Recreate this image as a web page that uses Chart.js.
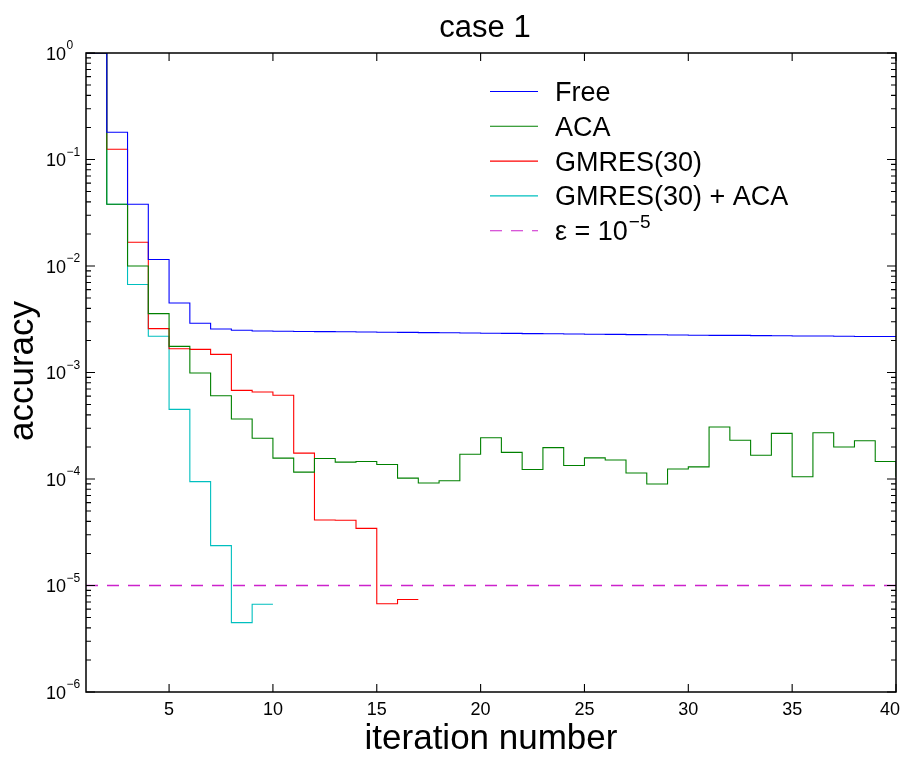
<!DOCTYPE html>
<html><head><meta charset="utf-8">
<script src="https://cdn.jsdelivr.net/npm/chart.js@4.4.1/dist/chart.umd.min.js"></script>
<style>html,body{margin:0;padding:0;background:#fff}#wrap{width:916px;height:761px;position:relative}</style>
</head><body><div id="wrap"><canvas id="c"></canvas></div>
<script>
// ---- data ----
const titleText = 'case 1';
const xLabel = 'iteration number';
const yLabel = 'accuracy';
const seriesNames = ['Free', 'ACA', 'GMRES(30)', 'GMRES(30) + ACA'];
const epsLabel = 'ε = 10';
const epsExp = '−5';
const freeVals = [1, 0.18, 0.038, 0.0115, 0.0045, 0.0029, 0.00256, 0.00249, 0.00245, 0.00244,
  0.00243, 0.00242, 0.00241, 0.0024, 0.00239, 0.00238, 0.00237, 0.00236, 0.00235, 0.00234,
  0.00233, 0.00232, 0.00231, 0.0023, 0.00229, 0.00228, 0.00227, 0.00226, 0.00225, 0.00224,
  0.00223, 0.00223, 0.00222, 0.00221, 0.0022, 0.0022, 0.00219, 0.00218, 0.00218, 0.00217];
const acaVals = [1, 0.038, 0.01, 0.00357, 0.00176, 0.00099, 0.000605, 0.000366, 0.000241, 0.000157,
  0.000116, 0.000156, 0.000144, 0.000146, 0.000137, 0.000102, 0.0000916, 0.0000964, 0.000171, 0.000244,
  0.000178, 0.000123, 0.000197, 0.000134, 0.000158, 0.000151, 0.000114, 0.0000897, 0.000124, 0.00013,
  0.000308, 0.000231, 0.000167, 0.000268, 0.000105, 0.000272, 0.0002, 0.000229, 0.000146, 0.000105];
const gmresVals = [1, 0.125, 0.0167, 0.00258, 0.00167, 0.00165, 0.00148, 0.00068, 0.000656, 0.000611,
  0.000175, 0.0000412, 0.000041, 0.0000344, 0.00000675, 0.0000074, 0.0000074];
const gmresAcaVals = [1, 0.038, 0.0067, 0.00219, 0.000451, 0.0000944, 0.0000237, 0.00000448, 0.00000666, 0.00000666];
const xTicks = [5, 10, 15, 20, 25, 30, 35, 40];
const yDecades = [0, -1, -2, -3, -4, -5, -6];
const xMin = 1, xMax = 40, yMin = 1e-6, yMax = 1;
const epsilon = 1e-5;
const colors = ['#0000ff', '#008000', '#ff0000', '#00bfbf', '#cc22cc'];

const FONT = "'Liberation Sans', Arial, Helvetica, sans-serif";
const toPts = vals => vals.map((v, i) => ({x: i + 1, y: v}));
const seriesVals = [freeVals, acaVals, gmresVals, gmresAcaVals];

const datasets = seriesVals.map((vals, i) => ({
  label: seriesNames[i], data: toPts(vals), borderColor: colors[i], backgroundColor: colors[i],
  borderWidth: 1.1, pointRadius: 0, stepped: 'before', fill: false
}));
datasets.push({
  label: 'eps', data: [{x: xMin, y: epsilon}, {x: xMax, y: epsilon}],
  borderColor: colors[4], backgroundColor: colors[4],
  borderWidth: 1.4, borderDash: [12, 9], pointRadius: 0, fill: false
});

const decor = {
  id: 'decor',
  afterDraw(chart) {
    const ctx = chart.ctx, xs = chart.scales.x, ys = chart.scales.y, a = chart.chartArea;
    ctx.save();
    ctx.strokeStyle = '#000'; ctx.lineWidth = 1.5;
    ctx.strokeRect(a.left, a.top, a.right - a.left, a.bottom - a.top);
    ctx.lineWidth = 1.1;
    ctx.beginPath();
    xTicks.forEach(t => {
      const px = xs.getPixelForValue(t);
      ctx.moveTo(px, a.bottom); ctx.lineTo(px, a.bottom - 8);
      ctx.moveTo(px, a.top); ctx.lineTo(px, a.top + 8);
    });
    yDecades.forEach(k => {
      const base = Math.pow(10, k);
      const py = ys.getPixelForValue(base);
      ctx.moveTo(a.left, py); ctx.lineTo(a.left + 9, py);
      ctx.moveTo(a.right, py); ctx.lineTo(a.right - 9, py);
      if (k < 0) {
        for (let m = 2; m <= 9; m++) {
          const my = ys.getPixelForValue(m * base);
          ctx.moveTo(a.left, my); ctx.lineTo(a.left + 5, my);
          ctx.moveTo(a.right, my); ctx.lineTo(a.right - 5, my);
        }
      }
    });
    ctx.stroke();
    // tick labels
    ctx.fillStyle = '#000';
    ctx.font = '18px ' + FONT; ctx.textAlign = 'center'; ctx.textBaseline = 'alphabetic';
    xTicks.forEach(t => ctx.fillText(String(t), Math.min(xs.getPixelForValue(t), a.right - 6), 715));
    yDecades.forEach(k => {
      const py = ys.getPixelForValue(Math.pow(10, k));
      ctx.font = '18px ' + FONT; ctx.textAlign = 'left';
      ctx.fillText('10', 46, py + 6.5);
      const w = ctx.measureText('10').width;
      ctx.font = '12px ' + FONT;
      ctx.fillText(k === 0 ? '0' : '−' + Math.abs(k), 46 + w + 0.5, py - 4);
    });
    // title & axis labels
    ctx.textAlign = 'center';
    ctx.font = '31px ' + FONT; ctx.fillText(titleText, 485, 37);
    ctx.font = '35px ' + FONT; ctx.fillText(xLabel, (a.left + a.right) / 2, 749);
    ctx.save(); ctx.translate(33, 371); ctx.rotate(-Math.PI / 2);
    ctx.fillText(yLabel, 0, 0); ctx.restore();
    // legend
    const rowY0 = 91.5, rowStep = 34.8;
    chart.data.datasets.forEach((ds, i) => {
      const y = rowY0 + i * rowStep;
      ctx.strokeStyle = ds.borderColor; ctx.lineWidth = 1.1;
      ctx.setLineDash(ds.borderDash || []);
      ctx.beginPath(); ctx.moveTo(490, y); ctx.lineTo(538, y); ctx.stroke();
      ctx.setLineDash([]);
      ctx.fillStyle = '#000'; ctx.textAlign = 'left'; ctx.font = '27px ' + FONT;
      if (i < seriesNames.length) {
        ctx.fillText(ds.label, 555, y + 9.5);
      } else {
        ctx.fillText(epsLabel, 555, y + 9.5);
        const w = ctx.measureText(epsLabel).width;
        ctx.font = '19px ' + FONT;
        ctx.fillText(epsExp, 555 + w + 1, y - 3);
      }
    });
    ctx.restore();
  }
};

new Chart(document.getElementById('c'), {
  type: 'line',
  data: {datasets},
  options: {
    responsive: true, maintainAspectRatio: false, animation: false,
    layout: {padding: {left: 86, right: 20, top: 53, bottom: 69}},
    plugins: {legend: {display: false}, title: {display: false}, tooltip: {enabled: false}},
    scales: {
      x: {type: 'linear', min: xMin, max: xMax, display: false},
      y: {type: 'logarithmic', min: yMin, max: yMax, display: false}
    }
  },
  plugins: [decor]
});
</script></body></html>
